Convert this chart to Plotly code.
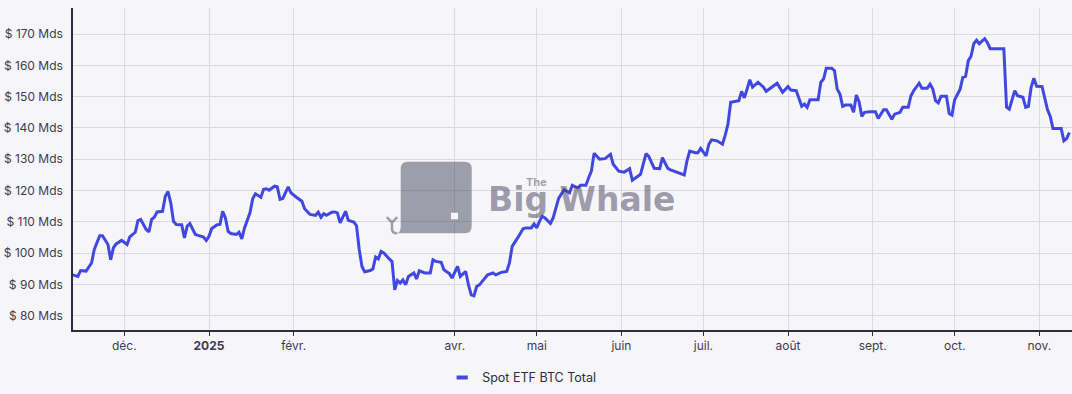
import plotly.graph_objects as go

dates = [
    "2024-11-12", "2024-11-14", "2024-11-15", "2024-11-17", "2024-11-19", "2024-11-20", "2024-11-22", "2024-11-23",
    "2024-11-25", "2024-11-26", "2024-11-27", "2024-11-28", "2024-11-30",
    "2024-12-01", "2024-12-02", "2024-12-03", "2024-12-05", "2024-12-06", "2024-12-07", "2024-12-09", "2024-12-10",
    "2024-12-11", "2024-12-12", "2024-12-13", "2024-12-15", "2024-12-16", "2024-12-17", "2024-12-18", "2024-12-19",
    "2024-12-20", "2024-12-22", "2024-12-23", "2024-12-24", "2024-12-25", "2024-12-26", "2024-12-27", "2024-12-28",
    "2024-12-30", "2024-12-31",
    "2025-01-01", "2025-01-02", "2025-01-04", "2025-01-05", "2025-01-06", "2025-01-07", "2025-01-08", "2025-01-09",
    "2025-01-11", "2025-01-12", "2025-01-13", "2025-01-14", "2025-01-16", "2025-01-17", "2025-01-18", "2025-01-20",
    "2025-01-21", "2025-01-22", "2025-01-23", "2025-01-25", "2025-01-26", "2025-01-27", "2025-01-28", "2025-01-30",
    "2025-01-31",
    "2025-02-02", "2025-02-04", "2025-02-05", "2025-02-07", "2025-02-09", "2025-02-10", "2025-02-11", "2025-02-12",
    "2025-02-13", "2025-02-15", "2025-02-16", "2025-02-17", "2025-02-18", "2025-02-20", "2025-02-21", "2025-02-23",
    "2025-02-24", "2025-02-25", "2025-02-26", "2025-02-27",
    "2025-03-01", "2025-03-02", "2025-03-03", "2025-03-04", "2025-03-05", "2025-03-06", "2025-03-08", "2025-03-09",
    "2025-03-10", "2025-03-11", "2025-03-12", "2025-03-13", "2025-03-14", "2025-03-15", "2025-03-17", "2025-03-18",
    "2025-03-19", "2025-03-21", "2025-03-23", "2025-03-24", "2025-03-25", "2025-03-27", "2025-03-28", "2025-03-30",
    "2025-03-31",
    "2025-04-02", "2025-04-03", "2025-04-05", "2025-04-06", "2025-04-07", "2025-04-08", "2025-04-09", "2025-04-10",
    "2025-04-12", "2025-04-13", "2025-04-15", "2025-04-16", "2025-04-18", "2025-04-20", "2025-04-21", "2025-04-22",
    "2025-04-24", "2025-04-26", "2025-04-27", "2025-04-29", "2025-04-30",
    "2025-05-01", "2025-05-02", "2025-05-03", "2025-05-04", "2025-05-06", "2025-05-07", "2025-05-09", "2025-05-11",
    "2025-05-13", "2025-05-14", "2025-05-16", "2025-05-17", "2025-05-19", "2025-05-20", "2025-05-21", "2025-05-22",
    "2025-05-24", "2025-05-26", "2025-05-28", "2025-05-29", "2025-05-31",
    "2025-06-02", "2025-06-04", "2025-06-05", "2025-06-07", "2025-06-08", "2025-06-10", "2025-06-11", "2025-06-13",
    "2025-06-15", "2025-06-16", "2025-06-18", "2025-06-19", "2025-06-22", "2025-06-24", "2025-06-25", "2025-06-26",
    "2025-06-28", "2025-06-29", "2025-06-30",
    "2025-07-02", "2025-07-03", "2025-07-04", "2025-07-06", "2025-07-08", "2025-07-09", "2025-07-10", "2025-07-11",
    "2025-07-13", "2025-07-14", "2025-07-15", "2025-07-16", "2025-07-17", "2025-07-18", "2025-07-19", "2025-07-20",
    "2025-07-21", "2025-07-23", "2025-07-24", "2025-07-26", "2025-07-28", "2025-07-30",
    "2025-08-01", "2025-08-02", "2025-08-04", "2025-08-06", "2025-08-07", "2025-08-08", "2025-08-09", "2025-08-12",
    "2025-08-13", "2025-08-14", "2025-08-15", "2025-08-17", "2025-08-18", "2025-08-19", "2025-08-20", "2025-08-21",
    "2025-08-22", "2025-08-24", "2025-08-25", "2025-08-26", "2025-08-27", "2025-08-28", "2025-08-29", "2025-08-31",
    "2025-09-02", "2025-09-03", "2025-09-05", "2025-09-06", "2025-09-08", "2025-09-09", "2025-09-11", "2025-09-12",
    "2025-09-14", "2025-09-15", "2025-09-16", "2025-09-18", "2025-09-19", "2025-09-21", "2025-09-22", "2025-09-23",
    "2025-09-24", "2025-09-25", "2025-09-26", "2025-09-28", "2025-09-29", "2025-09-30",
    "2025-10-01", "2025-10-03", "2025-10-04", "2025-10-05", "2025-10-06", "2025-10-07", "2025-10-08", "2025-10-09",
    "2025-10-10", "2025-10-12", "2025-10-13", "2025-10-14", "2025-10-19", "2025-10-20", "2025-10-21", "2025-10-23",
    "2025-10-24", "2025-10-26", "2025-10-27", "2025-10-28", "2025-10-29", "2025-10-30", "2025-10-31",
    "2025-11-02", "2025-11-04", "2025-11-05", "2025-11-06", "2025-11-09", "2025-11-10", "2025-11-11", "2025-11-12",
]

values_bn = [
    93.1, 92.6, 94.5, 94.3, 96.9, 101.2, 105.6, 105.6, 102.8, 97.9, 101.7, 103.0, 104.1,
    103.5, 102.8, 105.2, 106.7, 110.4, 110.8, 107.6, 106.8, 110.8, 111.5, 113.2, 113.4, 118.2, 119.7, 116.1, 110.2,
    109.2, 109.1, 104.9, 108.6, 109.5, 107.9, 106.0, 105.7, 105.2, 104.1,
    105.4, 107.9, 109.1, 109.2, 113.4, 111.3, 107.0, 106.3, 106.0, 106.7, 104.6, 108.1, 112.9, 117.4, 119.0, 117.9,
    120.4, 120.6, 120.1, 121.4, 121.2, 117.2, 117.5, 121.2, 119.3,
    117.9, 116.6, 114.2, 112.4, 112.1, 113.1, 111.5, 112.6, 112.1, 113.1, 113.2, 112.9, 109.7, 113.4, 110.5, 110.0,
    108.8, 101.2, 95.8, 94.1,
    94.5, 95.0, 98.8, 98.2, 100.6, 100.1, 98.2, 97.4, 88.3, 91.3, 90.5, 91.5, 89.9, 92.6, 93.7, 91.8,
    94.4, 93.7, 93.7, 97.9, 97.4, 97.1, 94.7, 93.5, 92.1,
    95.8, 92.6, 94.2, 89.9, 86.7, 86.4, 89.4, 89.9, 92.1, 93.1, 93.7, 93.1, 93.9, 94.2, 96.9, 102.2,
    104.9, 107.8, 108.1, 108.1, 109.4,
    108.1, 110.2, 111.8, 111.3, 109.5, 111.3, 117.5, 120.3, 119.3, 121.7, 120.9, 121.7, 121.7, 124.1, 126.2, 131.9,
    130.0, 130.2, 131.6, 128.4, 126.2,
    125.9, 127.0, 123.3, 124.6, 125.2, 131.8, 130.9, 127.1, 127.0, 130.5, 127.1, 126.6, 125.7, 125.0, 129.5, 132.6,
    132.1, 132.1, 133.5,
    131.1, 134.8, 136.2, 135.9, 134.8, 137.7, 141.2, 148.2, 148.6, 148.7, 151.7, 149.6, 152.4, 155.4, 153.0, 153.8,
    154.6, 153.0, 151.7, 153.0, 154.3, 151.4,
    153.2, 152.1, 151.9, 146.9, 147.6, 146.6, 149.0, 149.0, 154.6, 155.6, 159.1, 159.1, 158.3, 152.4, 150.8, 146.9,
    147.3, 147.3, 145.0, 150.5, 148.4, 143.7, 145.0, 145.2,
    145.2, 143.0, 145.8, 145.8, 142.8, 144.4, 145.0, 146.6, 146.6, 150.3, 151.9, 154.3, 152.7, 152.7, 154.0, 152.4,
    148.7, 148.0, 150.1, 150.1, 144.6, 144.1,
    149.0, 152.4, 156.2, 156.5, 161.5, 162.9, 166.9, 168.0, 166.9, 168.5, 167.2, 165.3, 165.3, 146.6, 146.0, 151.9,
    150.3, 149.8, 146.6, 146.9, 153.0, 155.9, 153.3,
    153.2, 145.8, 143.7, 139.8, 139.8, 135.9, 136.6, 138.5,
]

month_ticks = ["2024-12-01", "2025-01-01", "2025-02-01", "2025-04-01", "2025-05-01", "2025-06-01",
               "2025-07-01", "2025-08-01", "2025-09-01", "2025-10-01", "2025-11-01"]
month_labels = ["déc.", "<b>2025</b>", "févr.", "avr.", "mai", "juin",
                "juil.", "août", "sept.", "oct.", "nov."]
series_name = "Spot ETF BTC Total"

LINE = "#4148e2"
BG = "#f6f6f9"
AXIS = "#2e2c44"
GRID = "#dadae1"
TEXT = "#3d3b52"
WM = "rgba(70,67,92,0.5)"

W, H = 1072, 394
ML, MR, MT, MB = 73, 0, 8, 64
PW, PH = W - ML - MR, H - MT - MB


def fx(px):
    return (px - ML) / PW


def fy(py):
    return (H - MB - py) / PH


def pt(px, py):
    return f"{fx(px):.5f},{fy(py):.5f}"


fig = go.Figure()
fig.add_trace(go.Scatter(
    x=dates, y=values_bn, mode="lines", name=series_name,
    line=dict(color=LINE, width=3), showlegend=False,
    hovertemplate="%{x}<br>$ %{y} Mds<extra></extra>",
))
fig.add_trace(go.Scatter(
    x=[None], y=[None], mode="markers", name=series_name,
    marker=dict(symbol="line-ew", size=8, color=LINE, line=dict(color=LINE, width=4)),
))

# watermark (The Big Whale logo)
x0, x1, y0, y1, r = 400.7, 471.7, 161.7, 233.3, 7
body = (f"M {pt(x0 + r, y0)} L {pt(x1 - r, y0)} Q {pt(x1, y0)} {pt(x1, y0 + r)} "
        f"L {pt(x1, y1 - r)} Q {pt(x1, y1)} {pt(x1 - r, y1)} L {pt(396, y1)} "
        f"Q {pt(x0, y1)} {pt(x0, y1 - 7)} L {pt(x0, y0 + r)} Q {pt(x0, y0)} {pt(x0 + r, y0)} Z")
tail = (f"M {pt(386.8, 217.2)} L {pt(392, 222.5)} L {pt(397.2, 217.2)} "
        f"M {pt(392, 222.5)} L {pt(392, 229)} Q {pt(392, 233.3)} {pt(397, 233.3)}")
shapes = [
    dict(type="path", path=body, xref="paper", yref="paper", fillcolor=WM, line=dict(width=0), layer="above"),
    dict(type="path", path=tail, xref="paper", yref="paper", line=dict(color=WM, width=2.5), layer="above"),
    dict(type="rect", xref="paper", yref="paper", x0=fx(451), x1=fx(458), y0=fy(219.3), y1=fy(212.7),
         fillcolor=BG, line=dict(width=0), layer="above"),
]
annotations = [
    dict(text="<b>Big Whale</b>", xref="paper", yref="paper", x=fx(486), y=fy(199), xanchor="left",
         yanchor="middle", showarrow=False, font=dict(family="DejaVu Sans", size=33, color=WM)),
    dict(text="<b>The</b>", xref="paper", yref="paper", x=fx(536), y=fy(181.5), xanchor="center",
         yanchor="middle", showarrow=False, font=dict(family="Inter", size=11, color=WM)),
]

fig.update_layout(
    width=W, height=H,
    margin=dict(l=ML, r=MR, t=MT, b=MB),
    paper_bgcolor=BG, plot_bgcolor=BG,
    font=dict(family="Inter", size=12, color=TEXT),
    shapes=shapes, annotations=annotations,
    showlegend=True,
    legend=dict(orientation="h", xref="container", yref="container", x=0.4125, y=0.041,
                xanchor="left", yanchor="middle", bgcolor="rgba(0,0,0,0)",
                font=dict(family="Inter", size=12.5, color=AXIS)),
    xaxis=dict(
        type="date", range=["2024-11-12 05:00", "2025-11-12 23:00"],
        tickmode="array", tickvals=month_ticks, ticktext=month_labels,
        showgrid=True, gridcolor=GRID, gridwidth=1,
        showline=True, linecolor=AXIS, linewidth=1.5,
        ticks="outside", ticklen=4, tickcolor=AXIS, tickwidth=1,
        tickfont=dict(family="Inter", size=12, color=TEXT),
        zeroline=False, fixedrange=True,
    ),
    yaxis=dict(
        range=[75.5, 178.3], tickmode="linear", tick0=80, dtick=10,
        tickprefix="$ ", ticksuffix=" Mds",
        showgrid=True, gridcolor=GRID, gridwidth=1,
        showline=True, linecolor=AXIS, linewidth=1.5,
        ticks="", ticklabelstandoff=6,
        tickfont=dict(family="Inter", size=12, color=TEXT),
        zeroline=False, fixedrange=True,
    ),
)

fig.write_html("out.html")
